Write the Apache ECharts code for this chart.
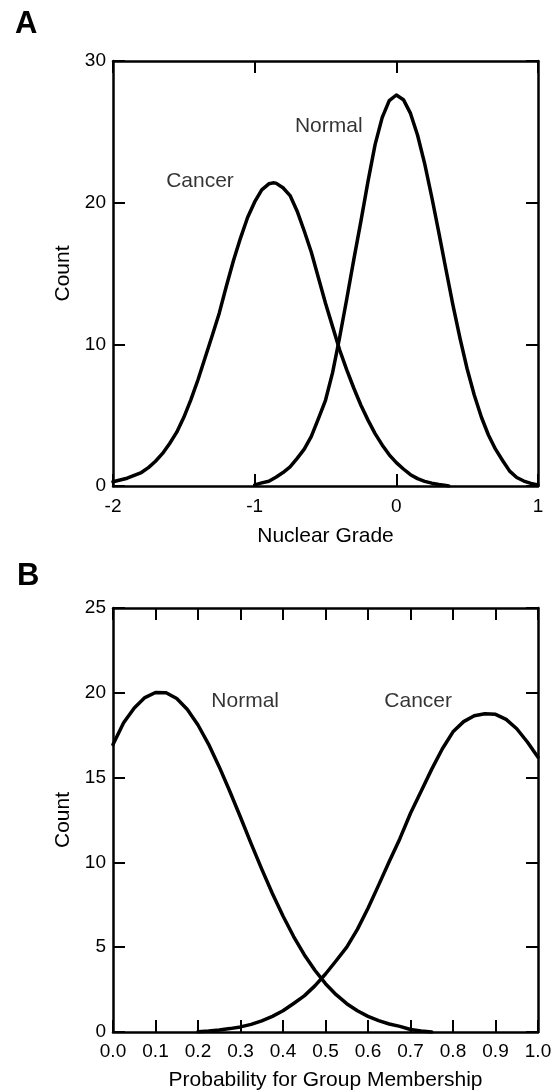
<!DOCTYPE html>
<html>
<head>
<meta charset="utf-8">
<script src="https://cdn.jsdelivr.net/npm/echarts@6/dist/echarts.min.js"></script>
<style>
html,body{margin:0;padding:0;background:#fff;}
#chart{width:556px;height:1092px;}
</style>
</head>
<body>
<div id="chart"></div>
<script>
// ---- Panel A data (Nuclear Grade) ----
const cancerA_x = [-2.0, -1.95, -1.9, -1.85, -1.8, -1.75, -1.7, -1.65, -1.6, -1.55, -1.5, -1.45, -1.4, -1.35, -1.3, -1.25, -1.2, -1.15, -1.1, -1.05, -1.0, -0.95, -0.9, -0.87, -0.85, -0.8, -0.75, -0.7, -0.65, -0.6, -0.55, -0.5, -0.45, -0.4, -0.35, -0.3, -0.25, -0.2, -0.15, -0.1, -0.05, 0.0, 0.05, 0.1, 0.15, 0.2, 0.25, 0.3, 0.35, 0.37];
const cancerA_y = [0.3, 0.42, 0.55, 0.75, 0.95, 1.3, 1.75, 2.3, 3.0, 3.8, 4.85, 6.1, 7.5, 9.05, 10.6, 12.2, 14.1, 15.9, 17.5, 18.95, 20.05, 20.9, 21.33, 21.4, 21.38, 21.05, 20.5, 19.4, 18.0, 16.5, 14.7, 12.9, 11.25, 9.6, 8.2, 6.9, 5.7, 4.65, 3.7, 2.9, 2.2, 1.65, 1.2, 0.8, 0.52, 0.33, 0.2, 0.1, 0.03, 0];
const normalA_x = [-1.0, -0.95, -0.9, -0.85, -0.8, -0.75, -0.7, -0.65, -0.6, -0.55, -0.5, -0.45, -0.4, -0.35, -0.3, -0.25, -0.2, -0.15, -0.1, -0.05, 0.0, 0.05, 0.1, 0.15, 0.2, 0.25, 0.3, 0.35, 0.4, 0.45, 0.5, 0.55, 0.6, 0.65, 0.7, 0.75, 0.8, 0.85, 0.9, 0.95, 1.0];
const normalA_y = [0.08, 0.22, 0.34, 0.62, 0.95, 1.35, 1.95, 2.6, 3.5, 4.75, 6.05, 8.0, 10.5, 13.2, 16.0, 18.7, 21.5, 24.1, 26.0, 27.2, 27.6, 27.27, 26.3, 24.76, 22.76, 20.4, 17.88, 15.3, 12.75, 10.4, 8.26, 6.42, 4.87, 3.6, 2.6, 1.8, 1.05, 0.6, 0.35, 0.18, 0.08];
const xTicksA = [-2, -1, 0, 1];
const yTicksA = [0, 10, 20, 30];

// ---- Panel B data (Probability for Group Membership) ----
const normalB_x = [0, 0.025, 0.05, 0.075, 0.1, 0.125, 0.15, 0.175, 0.2, 0.225, 0.25, 0.275, 0.3, 0.325, 0.35, 0.375, 0.4, 0.425, 0.45, 0.475, 0.5, 0.525, 0.55, 0.575, 0.6, 0.625, 0.65, 0.675, 0.7, 0.725, 0.75];
const normalB_y = [16.95, 18.23, 19.11, 19.72, 20.02, 20.0, 19.66, 19.02, 18.1, 16.96, 15.63, 14.18, 12.66, 11.11, 9.6, 8.17, 6.84, 5.63, 4.56, 3.64, 2.85, 2.2, 1.67, 1.25, 0.92, 0.67, 0.47, 0.33, 0.15, 0.06, 0];
const cancerB_x = [0.2, 0.225, 0.25, 0.275, 0.3, 0.325, 0.35, 0.375, 0.4, 0.425, 0.45, 0.475, 0.5, 0.525, 0.55, 0.575, 0.6, 0.625, 0.65, 0.675, 0.7, 0.725, 0.75, 0.775, 0.8, 0.825, 0.85, 0.875, 0.9, 0.925, 0.95, 0.975, 1.0];
const cancerB_y = [0.02, 0.06, 0.12, 0.2, 0.3, 0.45, 0.66, 0.92, 1.25, 1.68, 2.13, 2.72, 3.42, 4.2, 5.0, 6.05, 7.3, 8.66, 10.05, 11.4, 12.9, 14.2, 15.5, 16.7, 17.7, 18.3, 18.65, 18.77, 18.73, 18.43, 17.88, 17.1, 16.2];
const xTicksB = [0, 0.1, 0.2, 0.3, 0.4, 0.5, 0.6, 0.7, 0.8, 0.9, 1.0];
const yTicksB = [0, 5, 10, 15, 20, 25];

// ---- Curve labels (data coordinates) ----
const labelsA = [{text: 'Cancer', x: -1.386, y: 21.55}, {text: 'Normal', x: -0.477, y: 25.4}];
const labelsB = [{text: 'Normal', x: 0.311, y: 19.53}, {text: 'Cancer', x: 0.718, y: 19.53}];

const FONT = "'Liberation Sans', Arial, Helvetica, sans-serif";
const chart = echarts.init(document.getElementById('chart'), null, {renderer: 'canvas'});

function zip(xs, ys) { return xs.map((x, i) => [x, ys[i]]); }

function xAx(grid, ticks, decimals, pos, showLabel, name, nameGap, margin) {
  return {
    type: 'value', gridIndex: grid, position: pos,
    min: ticks[0], max: ticks[ticks.length - 1], interval: ticks[1] - ticks[0],
    axisLine: {show: true, onZero: false, lineStyle: {color: '#000', width: 2.5}},
    axisTick: {show: true, inside: true, length: 12, lineStyle: {color: '#000', width: 2}},
    axisLabel: {show: showLabel, color: '#000', fontSize: 19, fontFamily: FONT, margin: margin,
      formatter: v => decimals ? Number(v).toFixed(decimals) : String(Math.round(v))},
    splitLine: {show: false},
    name: name, nameLocation: 'middle', nameGap: nameGap,
    nameTextStyle: {color: '#000', fontSize: 21, fontFamily: FONT}
  };
}
function yAx(grid, ticks, pos, showLabel, name) {
  return {
    type: 'value', gridIndex: grid, position: pos,
    min: ticks[0], max: ticks[ticks.length - 1], interval: ticks[1] - ticks[0],
    axisLine: {show: true, onZero: false, lineStyle: {color: '#000', width: 2.5}},
    axisTick: {show: true, inside: true, length: 12, lineStyle: {color: '#000', width: 2}},
    axisLabel: {show: showLabel, color: '#000', fontSize: 19, fontFamily: FONT, margin: 7},
    splitLine: {show: false},
    name: name, nameLocation: 'middle', nameGap: 38, nameRotate: 90,
    nameTextStyle: {color: '#000', fontSize: 21, fontFamily: FONT}
  };
}
function curve(name, xi, yi, data) {
  return {
    name: name, type: 'line', xAxisIndex: xi, yAxisIndex: yi, data: data,
    smooth: false, showSymbol: false, symbol: 'none', clip: true,
    lineStyle: {color: '#000', width: 3.5, join: 'round', cap: 'round'}, silent: true, z: 3
  };
}
function labelSeries(xi, yi, labels) {
  return {
    type: 'scatter', xAxisIndex: xi, yAxisIndex: yi, symbolSize: 0, silent: true,
    itemStyle: {color: '#000'},
    data: labels.map(l => ({value: [l.x, l.y], name: l.text})),
    label: {show: true, position: 'inside', formatter: p => p.name, color: '#000',
      textBorderWidth: 0, textBorderColor: 'transparent', textShadowBlur: 0,
      fontSize: 21, fontFamily: FONT}
  };
}

chart.setOption({
  animation: false,
  backgroundColor: '#fff',
  grid: [
    {left: 113, top: 61, width: 425, height: 425},
    {left: 113, top: 608, width: 425, height: 425}
  ],
  xAxis: [
    xAx(0, xTicksA, 0, 'bottom', true, 'Nuclear Grade', 40, 11),
    xAx(0, xTicksA, 0, 'top', false, '', 0, 8),
    xAx(1, xTicksB, 1, 'bottom', true, 'Probability for Group Membership', 38, 10),
    xAx(1, xTicksB, 1, 'top', false, '', 0, 8)
  ],
  yAxis: [
    yAx(0, yTicksA, 'left', true, 'Count'),
    yAx(0, yTicksA, 'right', false, ''),
    yAx(1, yTicksB, 'left', true, 'Count'),
    yAx(1, yTicksB, 'right', false, '')
  ],
  graphic: [
    {type: 'text', left: 15, top: 9, style: {text: 'A', font: "bold 31px " + FONT, fill: '#000'}},
    {type: 'text', left: 17, top: 561, style: {text: 'B', font: "bold 31px " + FONT, fill: '#000'}}
  ],
  series: [
    curve('Cancer A', 0, 0, zip(cancerA_x, cancerA_y)),
    curve('Normal A', 0, 0, zip(normalA_x, normalA_y)),
    labelSeries(0, 0, labelsA),
    curve('Normal B', 2, 2, zip(normalB_x, normalB_y)),
    curve('Cancer B', 2, 2, zip(cancerB_x, cancerB_y)),
    labelSeries(2, 2, labelsB)
  ]
});
</script>
</body>
</html>
